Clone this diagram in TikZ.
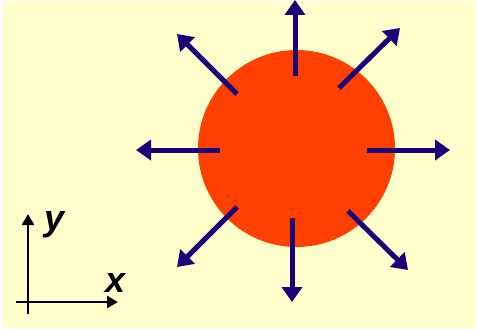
\documentclass[tikz,border=0pt]{standalone}
\usepackage{fontspec}
\setmainfont{Liberation Sans}
\usetikzlibrary{arrows.meta}
\definecolor{bgyellow}{RGB}{255,255,204}
\definecolor{ballred}{RGB}{255,64,0}
\definecolor{arrownavy}{RGB}{28,0,120}
\tikzset{
  outarrow/.style={draw=arrownavy, line width=5pt, -{Triangle[length=15pt,width=20pt]}},
  axisarrow/.style={draw=black, line width=2.6pt, -{Triangle[length=11pt,width=12pt]}},
  axislabel/.style={font=\fontsize{36}{36}\selectfont\bfseries\itshape, inner sep=0pt, anchor=base}
}
\begin{document}
\begin{tikzpicture}[x=1pt,y=-1pt]
\useasboundingbox (0,0) rectangle (477,329);
\fill[white] (0,0) rectangle (477,329);
\fill[bgyellow] (3,1) rectangle (476,328);
\node[circle, fill=ballred, minimum size=197pt, inner sep=0pt] (ball) at (296.5,148.5) {};
% arrow start and end points
\coordinate (s1) at (295,76);  \coordinate (e1) at (295,0);
\coordinate (s2) at (367,150); \coordinate (e2) at (450,150);
\coordinate (s3) at (220,150); \coordinate (e3) at (136,150);
\coordinate (s4) at (292,218); \coordinate (e4) at (292,302);
\coordinate (s5) at (237,94);  \coordinate (e5) at (177,34);
\coordinate (s6) at (339,88);  \coordinate (e6) at (400,28);
\coordinate (s7) at (237,207); \coordinate (e7) at (177,267);
\coordinate (s8) at (348,211); \coordinate (e8) at (408,270);
\foreach \i in {1,...,8} { \draw[outarrow] (s\i) -- (e\i); }
% axes
\coordinate (o) at (28,302);
\coordinate (ystart) at (28,314);
\coordinate (xstart) at (16,302);
\coordinate (ytip) at (28,214);
\coordinate (xtip) at (118,302);
\draw[axisarrow] (ystart) -- (ytip);
\draw[axisarrow] (xstart) -- (xtip);
\node[axislabel] (ylab) at (55,230) {y};
\node[axislabel] (xlab) at (116,292) {x};
\end{tikzpicture}
\end{document}
